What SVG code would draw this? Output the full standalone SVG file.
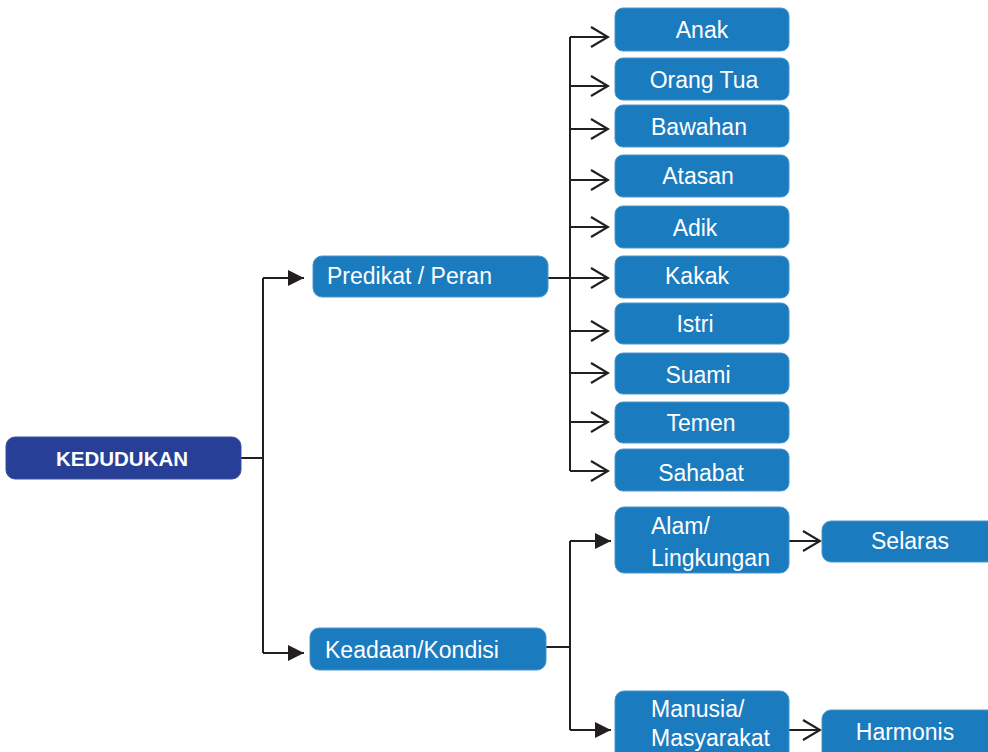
<svg xmlns="http://www.w3.org/2000/svg" width="988" height="752" viewBox="0 0 988 752">
<defs>
<style>
.box{fill:#1b7bbf;stroke:#4a96cc;stroke-width:1}
.root{fill:#273f97;stroke:#3a51a3;stroke-width:1}
.t{font-family:"Liberation Sans",Arial,sans-serif;font-size:23px;fill:#ffffff}
.c{text-anchor:middle}
.b{font-weight:bold;font-size:20.5px}
.ln{fill:none;stroke:#231f20;stroke-width:2}
</style>
<marker id="open" markerWidth="20" markerHeight="22" refX="18" refY="11" orient="auto" markerUnits="userSpaceOnUse">
<path d="M1,1 L18,11 L1,21" fill="none" stroke="#231f20" stroke-width="2.2"/>
</marker>
<marker id="fill" markerWidth="17" markerHeight="16" refX="16" refY="8" orient="auto" markerUnits="userSpaceOnUse">
<path d="M0,0 L16,8 L0,16 Z" fill="#231f20"/>
</marker>
</defs>
<rect width="988" height="752" fill="#ffffff"/>
<g id="connectors">
<path class="ln" d="M241,458 H263 V278"/>
<path class="ln" d="M263,458 V653"/>
<line class="ln" x1="263" y1="278" x2="304" y2="278" marker-end="url(#fill)"/>
<line class="ln" x1="263" y1="653" x2="304" y2="653" marker-end="url(#fill)"/>
<path class="ln" d="M548,278 H570"/>
<path class="ln" d="M570,37 V471"/>
<line class="ln" x1="570" y1="37" x2="608" y2="37" marker-end="url(#open)"/>
<line class="ln" x1="570" y1="86" x2="608" y2="86" marker-end="url(#open)"/>
<line class="ln" x1="570" y1="129" x2="608" y2="129" marker-end="url(#open)"/>
<line class="ln" x1="570" y1="180" x2="608" y2="180" marker-end="url(#open)"/>
<line class="ln" x1="570" y1="227" x2="608" y2="227" marker-end="url(#open)"/>
<line class="ln" x1="570" y1="278" x2="608" y2="278" marker-end="url(#open)"/>
<line class="ln" x1="570" y1="331" x2="608" y2="331" marker-end="url(#open)"/>
<line class="ln" x1="570" y1="373" x2="608" y2="373" marker-end="url(#open)"/>
<line class="ln" x1="570" y1="422" x2="608" y2="422" marker-end="url(#open)"/>
<line class="ln" x1="570" y1="471" x2="608" y2="471" marker-end="url(#open)"/>
<path class="ln" d="M546,647 H570"/>
<path class="ln" d="M570,541 V730"/>
<line class="ln" x1="570" y1="541" x2="611" y2="541" marker-end="url(#fill)"/>
<line class="ln" x1="570" y1="730" x2="611" y2="730" marker-end="url(#fill)"/>
<line class="ln" x1="789" y1="541" x2="820" y2="541" marker-end="url(#open)"/>
<line class="ln" x1="789" y1="730" x2="820" y2="730" marker-end="url(#open)"/>
</g>
<g id="kedudukan"><rect class="root" x="6" y="437" width="235" height="42" rx="9"/><text class="t c b" x="122" y="466">KEDUDUKAN</text></g>
<g id="predikat"><rect class="box" x="313" y="256" width="235" height="41" rx="9"/><text class="t" x="327" y="284">Predikat / Peran</text></g>
<g id="keadaan"><rect class="box" x="310" y="628" width="236" height="42" rx="9"/><text class="t" x="325" y="658">Keadaan/Kondisi</text></g>
<g id="anak"><rect class="box" x="615" y="8" width="174" height="43" rx="8"/><text class="t c" x="702" y="38">Anak</text></g>
<g id="orangtua"><rect class="box" x="615" y="58" width="174" height="42" rx="8"/><text class="t c" x="704" y="88">Orang Tua</text></g>
<g id="bawahan"><rect class="box" x="615" y="105" width="174" height="42" rx="8"/><text class="t c" x="699" y="135">Bawahan</text></g>
<g id="atasan"><rect class="box" x="615" y="155" width="174" height="42" rx="8"/><text class="t c" x="698" y="184">Atasan</text></g>
<g id="adik"><rect class="box" x="615" y="206" width="174" height="42" rx="8"/><text class="t c" x="695" y="236">Adik</text></g>
<g id="kakak"><rect class="box" x="615" y="256" width="174" height="42" rx="8"/><text class="t c" x="697" y="284">Kakak</text></g>
<g id="istri"><rect class="box" x="615" y="303" width="174" height="41" rx="8"/><text class="t c" x="695" y="332">Istri</text></g>
<g id="suami"><rect class="box" x="615" y="353" width="174" height="41" rx="8"/><text class="t c" x="698" y="383">Suami</text></g>
<g id="temen"><rect class="box" x="615" y="402" width="174" height="41" rx="8"/><text class="t c" x="701" y="431">Temen</text></g>
<g id="sahabat"><rect class="box" x="615" y="449" width="174" height="42" rx="8"/><text class="t c" x="701" y="481">Sahabat</text></g>
<g id="alam"><rect class="box" x="615" y="507" width="174" height="66" rx="9"/><text class="t" x="651" y="534">Alam/</text><text class="t" x="651" y="566">Lingkungan</text></g>
<g id="selaras"><rect class="box" x="822" y="521" width="176" height="41" rx="9"/><text class="t c" x="910" y="549">Selaras</text></g>
<g id="manusia"><rect class="box" x="615" y="691" width="174" height="80" rx="9"/><text class="t" x="651" y="717">Manusia/</text><text class="t" x="651" y="746">Masyarakat</text></g>
<g id="harmonis"><rect class="box" x="822" y="710" width="176" height="60" rx="9"/><text class="t c" x="905" y="740">Harmonis</text></g>
</svg>
